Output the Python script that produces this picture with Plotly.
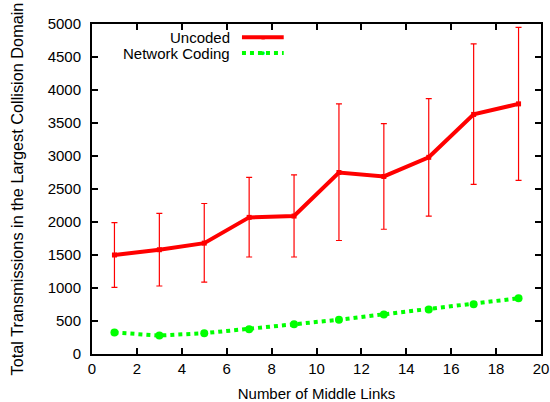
import plotly.graph_objects as go

middle_links = [1, 3, 5, 7, 9, 11, 13, 15, 17, 19]
uncoded = [1500, 1580, 1680, 2070, 2090, 2750, 2690, 2980, 3630, 3790]
uncoded_low = [1010, 1030, 1090, 1470, 1470, 1720, 1890, 2090, 2570, 2630]
uncoded_high = [1990, 2130, 2280, 2675, 2715, 3790, 3490, 3870, 4700, 4950]
network_coding = [325, 280, 315, 375, 450, 520, 600, 675, 755, 845]

x_ticks = list(range(0, 21, 2))
y_ticks = list(range(0, 5001, 500))

err_plus = [h - v for h, v in zip(uncoded_high, uncoded)]
err_minus = [v - l for v, l in zip(uncoded, uncoded_low)]

FONT = "Liberation Sans, Arial, sans-serif"

fig = go.Figure()
fig.add_trace(go.Scatter(
    x=middle_links, y=uncoded, mode="lines+markers", name="Uncoded",
    line=dict(color="#ff0000", width=4),
    marker=dict(symbol="square", size=5, color="#ff0000"),
    error_y=dict(type="data", array=err_plus, arrayminus=err_minus,
                 color="#ff0000", thickness=1.2, width=3),
    showlegend=False,
))
fig.add_trace(go.Scatter(
    x=middle_links, y=network_coding, mode="lines+markers", name="Network Coding",
    line=dict(color="#00ff00", width=4, dash="dot"),
    marker=dict(symbol="circle", size=8, color="#00ff00"),
    showlegend=False,
))

# Custom legend (text right-aligned, sample to the right), gnuplot style
legend_items = [("Uncoded", "#ff0000", "solid", "square", 5, 0.96),
                ("Network Coding", "#00ff00", "dot", "circle", 7, 0.912)]
for name, color, dash, sym, msize, ypos in legend_items:
    fig.add_annotation(xref="paper", yref="paper", x=0.312, y=ypos,
                       text=name, showarrow=False, xanchor="right", yanchor="middle",
                       font=dict(family=FONT, size=15, color="black"))
    fig.add_shape(type="line", xref="paper", yref="paper",
                  x0=0.334, x1=0.427, y0=ypos, y1=ypos,
                  line=dict(color=color, width=4, dash=dash))
    fig.add_annotation(xref="paper", yref="paper", x=0.3805, y=ypos,
                       text="■" if sym == "square" else "●", showarrow=False,
                       xanchor="center", yanchor="middle",
                       font=dict(size=msize + 2, color=color))

axis_common = dict(
    showline=True, linecolor="black", linewidth=2, mirror="ticks",
    ticks="inside", ticklen=6, tickwidth=2, tickcolor="black",
    showgrid=False, zeroline=False, automargin=False,
    tickfont=dict(family=FONT, size=15, color="black"),
)

fig.update_xaxes(range=[0, 20], tickvals=x_ticks,
                 title=dict(text="Number of Middle Links", standoff=13,
                            font=dict(family=FONT, size=15, color="black")),
                 **axis_common)
fig.update_yaxes(range=[0, 5000], tickvals=y_ticks, ticklabelstandoff=6,
                 title=dict(text="Total Transmissions in the Largest Collision Domain", standoff=20,
                            font=dict(family=FONT, size=16.3, color="black")),
                 **axis_common)

fig.update_layout(
    width=550, height=402,
    margin=dict(l=92, r=9, t=24, b=48, autoexpand=False),
    plot_bgcolor="white", paper_bgcolor="white",
    font=dict(family=FONT),
)

# remove the default 8px page margin so the figure fills the window
fig.write_html("out.html", config={"displayModeBar": False},
               post_script="document.body.style.margin='0';document.body.style.overflow='hidden';")
